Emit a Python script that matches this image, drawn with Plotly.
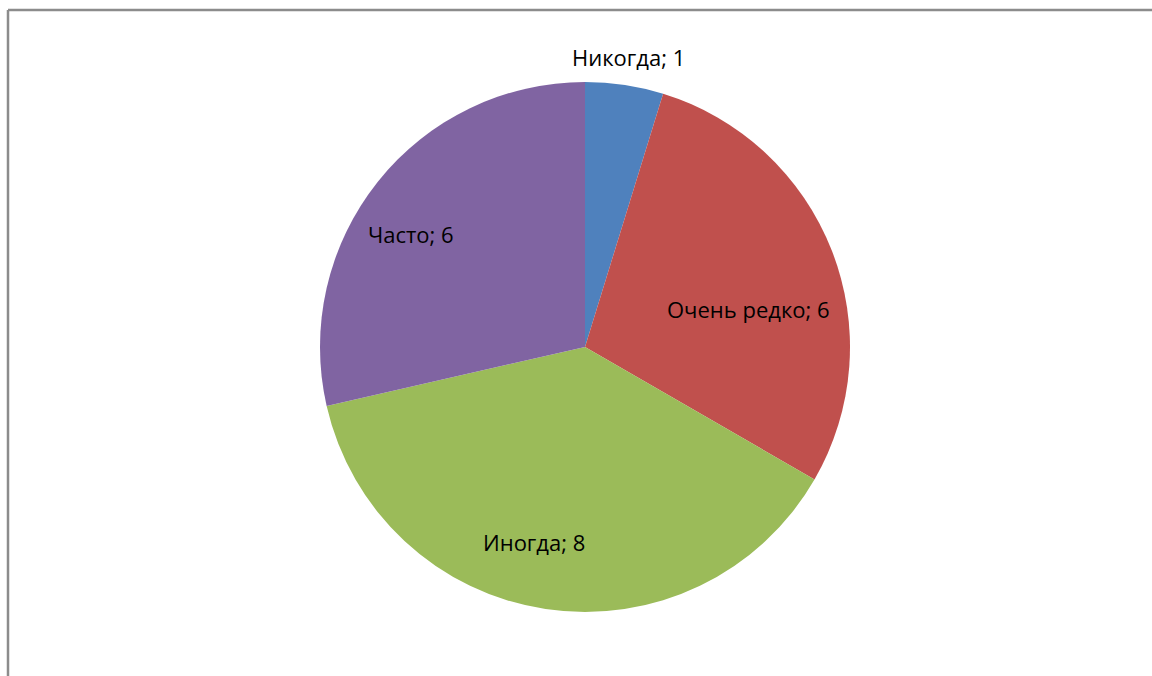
import math
import plotly.graph_objects as go

labels = ["Никогда", "Очень редко", "Иногда", "Часто"]
values = [1, 6, 8, 6]
colors = ["#4F81BD", "#C0504D", "#9BBB59", "#8064A2"]

# label placement (style): angle shift in degrees, radius as fraction of pie radius
label_shift = [0, 9, 6, -6]
label_radius = [1.10, 0.63, 0.77, 0.78]

W, H = 1152, 676
cx, cy, R = 585, 347, 265

fig = go.Figure()
fig.add_trace(
    go.Pie(
        labels=labels,
        values=values,
        sort=False,
        direction="clockwise",
        rotation=0,
        marker=dict(colors=colors, line=dict(width=0)),
        textinfo="none",
        hoverinfo="label+value",
        domain=dict(
            x=[(cx - R) / W, (cx + R) / W],
            y=[1 - (cy + R) / H, 1 - (cy - R) / H],
        ),
    )
)

total = sum(values)
cum = 0
for lab, v, sh, rf in zip(labels, values, label_shift, label_radius):
    mid = (cum + v / 2) / total * 360 + sh
    cum += v
    a = math.radians(mid)
    px = cx + rf * R * math.sin(a)
    py = cy - rf * R * math.cos(a) - 2
    fig.add_annotation(
        x=px / W,
        y=1 - py / H,
        xref="paper",
        yref="paper",
        text=f"{lab}; {v}",
        showarrow=False,
        font=dict(family="Open Sans, sans-serif", size=22, color="#000000"),
        xanchor="center",
        yanchor="middle",
    )

# chart area border: only top and left edges are visible
border = dict(color="#8C8C8C", width=2.5)
fig.add_shape(type="line", xref="paper", yref="paper",
              x0=8 / W, x1=1, y0=1 - 10 / H, y1=1 - 10 / H, line=border)
fig.add_shape(type="line", xref="paper", yref="paper",
              x0=8 / W, x1=8 / W, y0=0, y1=1 - 10 / H, line=border)

fig.update_layout(
    width=W,
    height=H,
    margin=dict(l=0, r=0, t=0, b=0),
    showlegend=False,
    paper_bgcolor="white",
    plot_bgcolor="white",
)

# drop the page margin so the figure fills the window without scrollbars
fig.write_html(
    "out.html",
    config=dict(displayModeBar=False),
    post_script="document.body.style.margin='0';"
    "document.documentElement.style.overflow='hidden';"
    "document.body.style.overflow='hidden';",
)
